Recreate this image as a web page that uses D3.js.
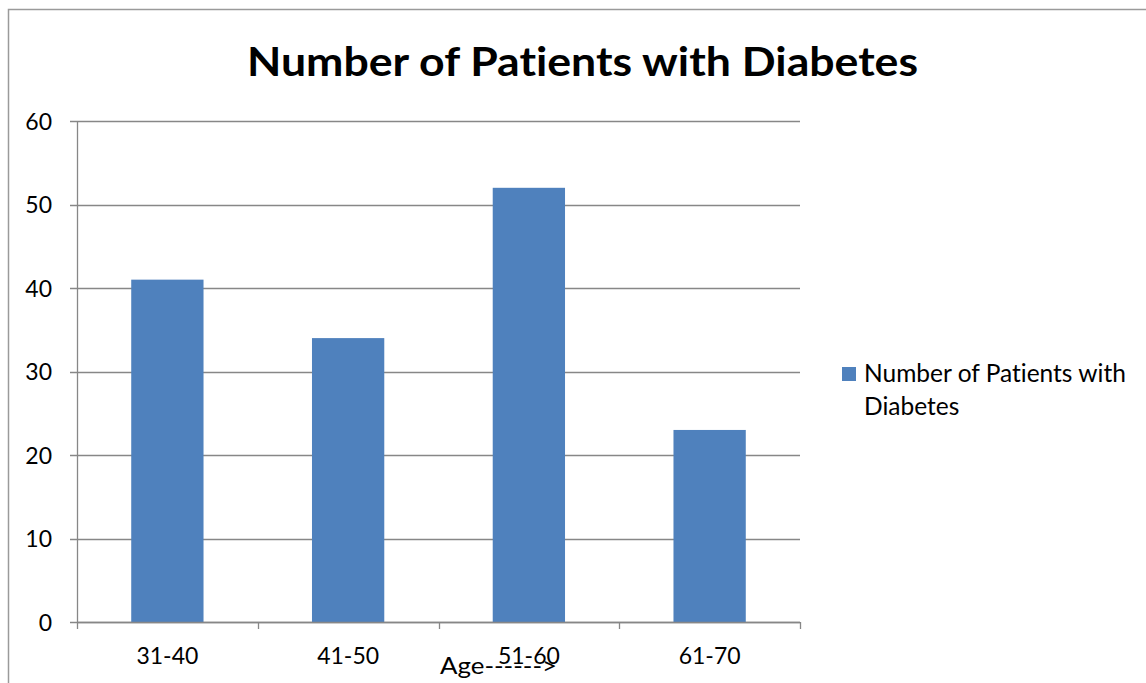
<!DOCTYPE html>
<html>
<head>
<meta charset="utf-8">
<script src="https://cdn.jsdelivr.net/npm/d3@7"></script>
<style>
  html, body { margin: 0; padding: 0; background: #fff; }
  svg { display: block; }
  text { font-family: Lato, "Open Sans", sans-serif; fill: #000; font-variant-ligatures: none; }
</style>
</head>
<body>
<svg id="chart" width="1146" height="683"></svg>
<script>
// Age groups and patient counts
const categories = ["31-40", "41-50", "51-60", "61-70"];
const patients = [41, 34, 52, 23];
const yTicks = [0, 10, 20, 30, 40, 50, 60];
const chartTitle = "Number of Patients with Diabetes";
const seriesName = ["Number of Patients with", "Diabetes"];
const xAxisTitle = "Age------>";

const svg = d3.select("#chart");
const W = 1146, H = 683;
const plot = { left: 77, right: 800, top: 121, bottom: 622 };
const barColor = "#4F81BD";
const lineColor = "#878787";

// outer frame (left and top edges)
svg.append("path")
  .attr("d", `M8.5,${H} V9.5 H${W}`)
  .attr("fill", "none")
  .attr("stroke", "#9a9a9a")
  .attr("stroke-width", 1.5);

const x = d3.scaleBand().domain(categories).range([plot.left, plot.right]).paddingInner(0.6).paddingOuter(0.3);
const xb = d3.scaleBand().domain(categories).range([plot.left, plot.right]);
const y = d3.scaleLinear().domain([0, 60]).range([plot.bottom, plot.top]);

// horizontal gridlines
svg.append("g").selectAll("line").data(yTicks).join("line")
  .attr("x1", plot.left - 7).attr("x2", plot.right)
  .attr("y1", d => Math.round(y(d)) + 0.5).attr("y2", d => Math.round(y(d)) + 0.5)
  .attr("stroke", lineColor).attr("stroke-width", 1.3);

// y axis line
svg.append("line")
  .attr("x1", plot.left + 0.5).attr("x2", plot.left + 0.5)
  .attr("y1", plot.top).attr("y2", plot.bottom)
  .attr("stroke", lineColor).attr("stroke-width", 1.3);

// y tick labels
svg.append("g").selectAll("text").data(yTicks).join("text")
  .attr("x", 52).attr("y", d => y(d) + 8.5)
  .attr("text-anchor", "end")
  .style("font-size", "23px")
  .text(d => d);

// bars
svg.append("g").selectAll("rect").data(patients).join("rect")
  .attr("x", (d, i) => x(categories[i]))
  .attr("width", x.bandwidth())
  .attr("y", d => y(d))
  .attr("height", d => y(0) - y(d))
  .attr("fill", barColor);

// x axis baseline and category ticks
svg.append("line")
  .attr("x1", plot.left).attr("x2", plot.right)
  .attr("y1", plot.bottom + 0.5).attr("y2", plot.bottom + 0.5)
  .attr("stroke", lineColor).attr("stroke-width", 1.3);
const bounds = categories.map(c => xb(c)).concat([plot.right]);
svg.append("g").selectAll("line").data(bounds).join("line")
  .attr("x1", d => Math.round(d) + 0.5).attr("x2", d => Math.round(d) + 0.5)
  .attr("y1", plot.bottom).attr("y2", plot.bottom + 7)
  .attr("stroke", lineColor).attr("stroke-width", 1.3);

// category labels
svg.append("g").selectAll("text").data(categories).join("text")
  .attr("x", d => xb(d) + xb.bandwidth() / 2)
  .attr("y", 664)
  .attr("text-anchor", "middle")
  .style("font-size", "23px")
  .text(d => d);

// axis title
svg.append("text")
  .attr("x", 440).attr("y", 674)
  .attr("textLength", 117).attr("lengthAdjust", "spacingAndGlyphs")
  .style("font-size", "23px")
  .text(xAxisTitle);

// chart title
svg.append("text")
  .attr("x", 247).attr("y", 76)
  .attr("textLength", 671).attr("lengthAdjust", "spacingAndGlyphs")
  .style("font-size", "41px").style("font-weight", "bold")
  .text(chartTitle);

// legend
svg.append("rect")
  .attr("x", 842).attr("y", 367).attr("width", 14).attr("height", 14)
  .attr("fill", barColor);
svg.append("g").selectAll("text").data(seriesName).join("text")
  .attr("x", 864).attr("y", (d, i) => 382 + i * 33)
  .style("font-size", "24.5px")
  .text(d => d);
</script>
</body>
</html>
